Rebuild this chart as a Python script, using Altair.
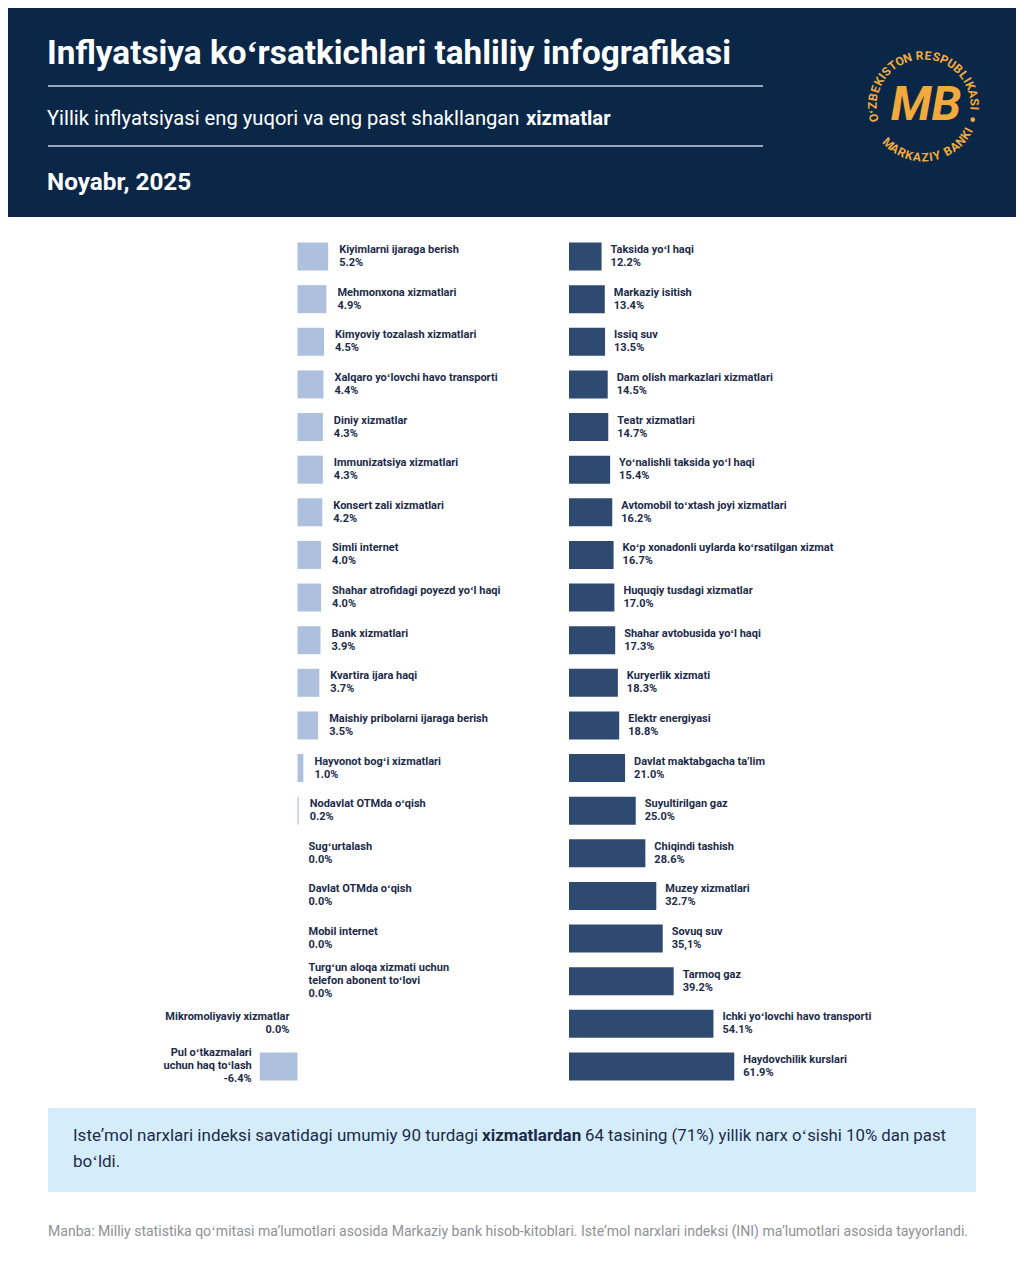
import math
import altair as alt
import pandas as pd

# ---------------- data ----------------
left_names = [
    "Kiyimlarni ijaraga berish",
    "Mehmonxona xizmatlari",
    "Kimyoviy tozalash xizmatlari",
    "Xalqaro yoʻlovchi havo transporti",
    "Diniy xizmatlar",
    "Immunizatsiya xizmatlari",
    "Konsert zali xizmatlari",
    "Simli internet",
    "Shahar atrofidagi poyezd yoʻl haqi",
    "Bank xizmatlari",
    "Kvartira ijara haqi",
    "Maishiy pribolarni ijaraga berish",
    "Hayvonot bogʻi xizmatlari",
    "Nodavlat OTMda oʻqish",
    "Sugʻurtalash",
    "Davlat OTMda oʻqish",
    "Mobil internet",
    "Turgʻun aloqa xizmati uchun\ntelefon abonent toʻlovi",
    "Mikromoliyaviy xizmatlar",
    "Pul oʻtkazmalari\nuchun haq toʻlash",
]
left_values = [5.2, 4.9, 4.5, 4.4, 4.3, 4.3, 4.2, 4.0, 4.0, 3.9, 3.7, 3.5,
               1.0, 0.2, 0.0, 0.0, 0.0, 0.0, 0.0, -6.4]
left_value_text = ["5.2%", "4.9%", "4.5%", "4.4%", "4.3%", "4.3%", "4.2%", "4.0%",
                   "4.0%", "3.9%", "3.7%", "3.5%", "1.0%", "0.2%", "0.0%", "0.0%",
                   "0.0%", "0.0%", "0.0%", "-6.4%"]

right_names = [
    "Taksida yoʻl haqi",
    "Markaziy isitish",
    "Issiq suv",
    "Dam olish markazlari xizmatlari",
    "Teatr xizmatlari",
    "Yoʻnalishli taksida yoʻl haqi",
    "Avtomobil toʻxtash joyi xizmatlari",
    "Koʻp xonadonli uylarda koʻrsatilgan xizmat",
    "Huquqiy tusdagi xizmatlar",
    "Shahar avtobusida yoʻl haqi",
    "Kuryerlik xizmati",
    "Elektr energiyasi",
    "Davlat maktabgacha taʼlim",
    "Suyultirilgan gaz",
    "Chiqindi tashish",
    "Muzey xizmatlari",
    "Sovuq suv",
    "Tarmoq gaz",
    "Ichki yoʻlovchi havo transporti",
    "Haydovchilik kurslari",
]
right_values = [12.2, 13.4, 13.5, 14.5, 14.7, 15.4, 16.2, 16.7, 17.0, 17.3,
                18.3, 18.8, 21.0, 25.0, 28.6, 32.7, 35.1, 39.2, 54.1, 61.9]
right_value_text = ["12.2%", "13.4%", "13.5%", "14.5%", "14.7%", "15.4%", "16.2%",
                    "16.7%", "17.0%", "17.3%", "18.3%", "18.8%", "21.0%", "25.0%",
                    "28.6%", "32.7%", "35,1%", "39.2%", "54.1%", "61.9%"]

title_text = "Inflyatsiya koʻrsatkichlari tahliliy infografikasi"
subtitle_normal = "Yillik inflyatsiyasi eng yuqori va eng past shakllangan"
subtitle_bold = "xizmatlar"
date_text = "Noyabr, 2025"
info_part1 = "Isteʼmol narxlari indeksi savatidagi umumiy 90 turdagi"
info_bold = "xizmatlardan"
info_part2 = "64 tasining (71%) yillik narx oʻsishi 10% dan past"
info_line2 = "boʻldi."
source_text = ("Manba: Milliy statistika qoʻmitasi maʼlumotlari asosida Markaziy bank "
               "hisob-kitoblari. Isteʼmol narxlari indeksi (INI) maʼlumotlari asosida tayyorlandi.")
logo_top = "OʻZBEKISTON RESPUBLIKASI"
logo_bottom = "MARKAZIY BANKI"

# ---------------- style ----------------
OFF = 8                      # page margin
W, H = 1024 - 2 * OFF, 1280 - 2 * OFF
NAVY = "#0b2748"
BAR_DARK = "#2e4a70"
BAR_LIGHT = "#adc1de"
TXT = "#1c2b4a"
ORANGE = "#f3aa3c"
FONT = "Roboto"
LEFT_SIDE = {"Mikromoliyaviy xizmatlar"}
LINE_H = 13.0
ROW_TOP, ROW_BOT = 235.2, 1087.8


def p(v):
    return v - OFF


one = pd.DataFrame({"k": [0]})
N = len(left_names)
row_step = (ROW_BOT - ROW_TOP) / N

row_scale_l = alt.Scale(domain=left_names, range=[p(ROW_TOP), p(ROW_BOT)],
                        paddingInner=0.343, paddingOuter=0.1715)
row_scale_r = alt.Scale(domain=right_names, range=[p(ROW_TOP), p(ROW_BOT)],
                        paddingInner=0.343, paddingOuter=0.1715)
row_q = alt.Scale(domain=[-0.5, N - 0.5], range=[p(ROW_TOP), p(ROW_BOT)], nice=False, zero=False)
lx = alt.Scale(domain=[-10, 10], range=[p(297.5) - 59, p(297.5) + 59], nice=False, zero=False)
rx = alt.Scale(domain=[0, 100], range=[p(569), p(569) + 267], nice=False, zero=False)


def line_rows(names, values, vtexts, side_fn):
    out = []
    for i, (nm, v, vt) in enumerate(zip(names, values, vtexts)):
        lines = nm.split("\n") + [vt]
        k = len(lines)
        for j, ln in enumerate(lines):
            out.append({"row": i + (j - (k - 1) / 2) * LINE_H / row_step,
                        "value": v, "line": ln, "side": side_fn(nm, v)})
    return pd.DataFrame(out)


ldf = pd.DataFrame({"name": left_names, "value": left_values})
rdf = pd.DataFrame({"name": right_names, "value": right_values})
llines = line_rows(left_names, left_values, left_value_text,
                   lambda n, v: "L" if (v < 0 or n in LEFT_SIDE) else "R")
rlines = line_rows(right_names, right_values, right_value_text, lambda n, v: "R")

txt_kw = dict(baseline="middle", fontSize=11, font=FONT, fontWeight="bold", color=TXT)

left_bars = alt.Chart(ldf).mark_bar(color=BAR_LIGHT).encode(
    x=alt.X("value:Q", scale=lx, axis=None),
    y=alt.Y("name:N", scale=row_scale_l, axis=None, sort=left_names),
)
left_txt_r = alt.Chart(llines).transform_filter(alt.datum.side == "R").mark_text(
    align="left", dx=11, **txt_kw).encode(
    x=alt.X("value:Q", scale=lx, axis=None),
    y=alt.Y("row:Q", scale=row_q, axis=None),
    text="line:N",
)
left_txt_l = alt.Chart(llines).transform_filter(alt.datum.side == "L").mark_text(
    align="right", dx=-8, **txt_kw).encode(
    x=alt.X("value:Q", scale=lx, axis=None),
    y=alt.Y("row:Q", scale=row_q, axis=None),
    text="line:N",
)
right_bars = alt.Chart(rdf).mark_bar(color=BAR_DARK).encode(
    x=alt.X("value:Q", scale=rx, axis=None),
    y=alt.Y("name:N", scale=row_scale_r, axis=None, sort=right_names),
)
right_txt = alt.Chart(rlines).mark_text(align="left", dx=9, **txt_kw).encode(
    x=alt.X("value:Q", scale=rx, axis=None),
    y=alt.Y("row:Q", scale=row_q, axis=None),
    text="line:N",
)

# ---------------- header ----------------
header = alt.Chart(one).mark_rect(color=NAVY).encode(
    x=alt.value(-OFF), x2=alt.value(W + OFF), y=alt.value(-OFF), y2=alt.value(p(217)))


def rule(y):
    return alt.Chart(one).mark_rule(color="#c9d3e1", strokeWidth=1.3).encode(
        x=alt.value(p(48)), x2=alt.value(p(763)), y=alt.value(p(y)))


def label(txt, x, y, size, weight="normal", color="white", align="left",
          baseline="alphabetic", style="normal"):
    return alt.Chart(one).mark_text(align=align, baseline=baseline, fontSize=size,
                                    fontWeight=weight, color=color, font=FONT,
                                    fontStyle=style).encode(
        x=alt.value(p(x)), y=alt.value(p(y)), text=alt.value(txt))


title = label(title_text, 47, 63.5, 33.3, "bold")
sub1 = label(subtitle_normal, 47, 125, 20.2)
sub2 = label(subtitle_bold, 526, 125, 20.2, "bold")
date = label(date_text, 47, 190, 24.3, "bold")

# ---------------- logo ----------------
cx, cy, r = 923.5, 106.5, 51


def arc_letters(text, a0, a1, rot_shift):
    wts = [0.5 if c in " ʻI" else 1.0 for c in text]
    cum = [0.0]
    for i in range(1, len(text)):
        cum.append(cum[-1] + (wts[i - 1] + wts[i]) / 2)
    total = cum[-1]
    out = []
    for c, t in zip(text, cum):
        a = a0 + (a1 - a0) * t / total
        out.append({"ch": c, "px": p(cx + r * math.sin(math.radians(a))),
                    "py": p(cy - r * math.cos(math.radians(a))),
                    "ang": (a + rot_shift) % 360})
    return out


logo_df = pd.DataFrame(arc_letters(logo_top, -103, 92, 0) +
                       arc_letters(logo_bottom, 223.5, 117.5, -180))
logo_letters = alt.Chart(logo_df).mark_text(
    baseline="middle", align="center", fontSize=12, fontWeight="bold", font=FONT,
    color=ORANGE).encode(
    x=alt.X("px:Q", scale=None, axis=None), y=alt.Y("py:Q", scale=None, axis=None),
    text="ch:N", angle=alt.Angle("ang:Q", scale=None))
dot_a = math.radians(105)
logo_dot = alt.Chart(one).mark_circle(color=ORANGE, opacity=1, size=22).encode(
    x=alt.value(p(cx + r * math.sin(dot_a))), y=alt.value(p(cy - r * math.cos(dot_a))))
logo_mb = label("MB", 926, 106, 48, "bold", ORANGE, "center", "middle", "italic")

# ---------------- info box & source ----------------
info_box = alt.Chart(one).mark_rect(color="#d5edfb").encode(
    x=alt.value(p(48)), x2=alt.value(p(976)), y=alt.value(p(1108)), y2=alt.value(p(1192)))
info1 = label(info_part1, 73, 1141, 17, "normal", TXT)
info2 = label(info_bold, 482, 1141, 17, "bold", TXT)
info3 = label(info_part2, 585, 1141, 16.8, "normal", TXT)
info4 = label(info_line2, 73, 1167, 17, "normal", TXT)
source = label(source_text, 48, 1236, 14.05, "normal", "#8e9197")

chart = alt.layer(
    header, rule(86), rule(146), title, sub1, sub2, date,
    logo_letters, logo_dot, logo_mb,
    left_bars, left_txt_r, left_txt_l, right_bars, right_txt,
    info_box, info1, info2, info3, info4, source,
).resolve_scale(x="independent", y="independent").properties(
    width=W, height=H, padding=0, autosize=alt.AutoSizeParams(type="none"),
    background="white",
).configure_view(stroke=None)

chart.save("out.html", embed_options={"renderer": "svg", "actions": False})
